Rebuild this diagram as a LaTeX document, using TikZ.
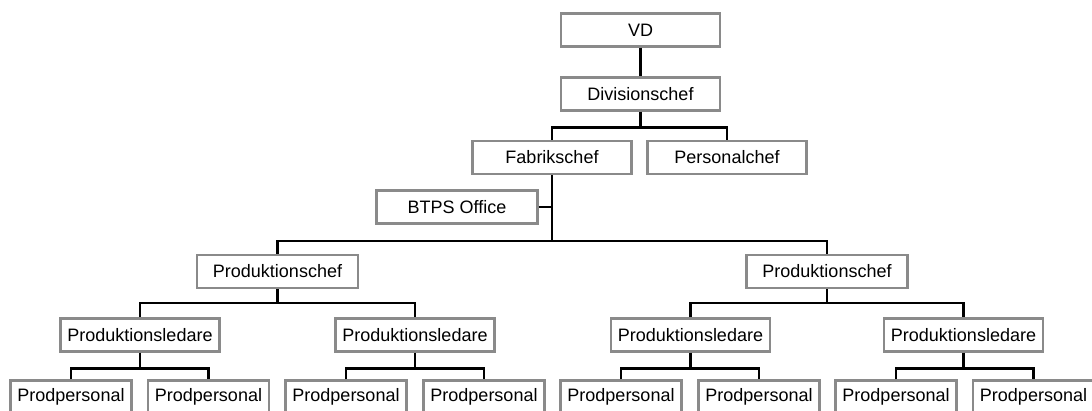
\documentclass[tikz,border=0pt]{standalone}
\usepackage{fontspec}
\setmainfont{Liberation Sans}
\definecolor{boxgray}{HTML}{8A8A8A}
\begin{document}
\begin{tikzpicture}[x=1pt,y=-1pt,
  box/.style={draw=boxgray,line width=2.2pt,fill=white,inner sep=0pt,
    minimum height=33pt,font=\fontsize{18}{20}\selectfont},
  wbig/.style={box,minimum width=159pt},
  wsmall/.style={box,minimum width=121pt},
  conn/.style={draw=black,line width=2.3pt}]
\useasboundingbox (0,0) rectangle (1092,410);
\clip (0,0) rectangle (1092,410);
\node[wbig] (vd) at (640.5,30) {VD};
\node[wbig] (div) at (640.5,94) {Divisionschef};
\node[wbig] (fab) at (552,157.5) {Fabrikschef};
\node[wbig] (pers) at (727,157.5) {Personalchef};
\node[wbig,minimum width=161pt] (btps) at (457,207) {BTPS Office};
\node[wbig,minimum width=161pt] (pc1) at (277.5,271.5) {Produktionschef};
\node[wbig,minimum width=161pt] (pc2) at (827,271.5) {Produktionschef};
\node[wbig] (pl1) at (140,335) {Produktionsledare};
\node[wbig] (pl2) at (415,335) {Produktionsledare};
\node[wbig] (pl3) at (690.5,335) {Produktionsledare};
\node[wbig] (pl4) at (963.5,335) {Produktionsledare};
\node[wsmall] (pp1) at (71,397) {Prodpersonal};
\node[wsmall] (pp2) at (208.5,397) {Prodpersonal};
\node[wsmall] (pp3) at (346,397) {Prodpersonal};
\node[wsmall] (pp4) at (484,397) {Prodpersonal};
\node[wsmall] (pp5) at (621,397) {Prodpersonal};
\node[wsmall] (pp6) at (759,397) {Prodpersonal};
\node[wsmall] (pp7) at (896,397) {Prodpersonal};
\node[wsmall] (pp8) at (1033.5,397) {Prodpersonal};
\path[conn] (vd) -- (div);
\path[conn] (div.south) -- ++(0,16) coordinate (j1);
\path[conn] (fab.north) |- (j1) -| (pers.north);
\path[conn] (fab.south) -- ++(0,66) coordinate (j2);
\path[conn] (btps.east) -- (btps.east -| fab.south);
\path[conn] (pc1.north) |- (j2) -| (pc2.north);
\path[conn] (pc1.south) -- ++(0,14) coordinate (j3);
\path[conn] (pl1.north) |- (j3) -| (pl2.north);
\path[conn] (pc2.south) -- ++(0,14) coordinate (j4);
\path[conn] (pl3.north) |- (j4) -| (pl4.north);
\path[conn] (pl1.south) -- ++(0,16) coordinate (k1);
\path[conn] (pp1.north) |- (k1) -| (pp2.north);
\path[conn] (pl2.south) -- ++(0,16) coordinate (k2);
\path[conn] (pp3.north) |- (k2) -| (pp4.north);
\path[conn] (pl3.south) -- ++(0,16) coordinate (k3);
\path[conn] (pp5.north) |- (k3) -| (pp6.north);
\path[conn] (pl4.south) -- ++(0,16) coordinate (k4);
\path[conn] (pp7.north) |- (k4) -| (pp8.north);
\end{tikzpicture}
\end{document}
